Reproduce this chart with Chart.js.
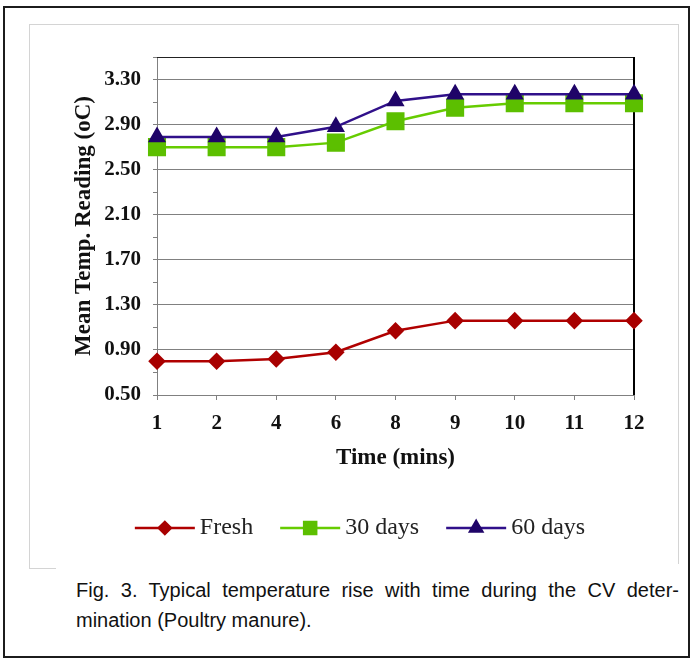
<!DOCTYPE html>
<html lang="en">
<head>
  <meta charset="UTF-8" />
  <title>Temperature rise - Poultry manure</title>
  <script src="https://cdn.jsdelivr.net/npm/chart.js"></script>
  <style>
    body { margin: 0; background: #fff; }
    .frame {
      position: absolute; left: 3px; top: 6px;
      width: 683px; height: 648px;
      border: 2px solid #1c1c1c;
    }
    .chart-box {
      position: absolute; left: 29px; top: 24px;
      width: 650px; height: 545px;
      box-sizing: border-box;
      border: 1px solid #d4d4d4;
    }
    .chart-wrap {
      position: absolute; left: 0; top: 0;
      width: 694px; height: 575px;
    }
    .caption {
      position: absolute; left: 56px; top: 564px;
      width: 628px; height: 86px;
      background: #fff;
      font-family: "Liberation Sans", Arial, sans-serif;
      font-size: 20px; line-height: 30px; color: #111;
    }
    .caption div { margin-left: 20px; width: 603px; }
    .caption .l1 { margin-top: 11px; text-align: justify; text-align-last: justify; }
  </style>
</head>
<body>
  <div class="frame"></div>
  <div class="chart-box"></div>
  <div class="chart-wrap"><canvas id="tempChart"></canvas></div>
  <div class="caption">
    <div class="l1">Fig. 3. Typical temperature rise with time during the CV deter-</div>
    <div>mination (Poultry manure).</div>
  </div>

  <script>
    // data
    const timeLabels = ['1', '2', '4', '6', '8', '9', '10', '11', '12'];
    const fresh  = [0.80, 0.80, 0.82, 0.88, 1.07, 1.16, 1.16, 1.16, 1.16];
    const days30 = [2.70, 2.70, 2.70, 2.74, 2.93, 3.05, 3.09, 3.09, 3.09];
    const days60 = [2.79, 2.79, 2.79, 2.88, 3.11, 3.17, 3.17, 3.17, 3.17];
    const seriesNames = ['Fresh', '30 days', '60 days'];
    const yLabelled = [0.50, 0.90, 1.30, 1.70, 2.10, 2.50, 2.90, 3.30];

    const serif = '"Liberation Serif", "Times New Roman", serif';
    const isLabelled = v => yLabelled.some(t => Math.abs(t - v) < 0.001);

    // top and right edge of the plot box
    const plotFrame = {
      id: 'plotFrame',
      beforeDatasetsDraw(chart) {
        const { ctx, chartArea: a } = chart;
        ctx.save();
        ctx.strokeStyle = '#222';
        ctx.lineWidth = 1;
        ctx.beginPath();
        ctx.moveTo(a.left, Math.round(a.top) + 0.5);
        ctx.lineTo(a.right, Math.round(a.top) + 0.5);
        ctx.stroke();
        ctx.strokeStyle = '#000';
        ctx.lineWidth = 2;
        ctx.beginPath();
        ctx.moveTo(Math.round(a.right), a.top);
        ctx.lineTo(Math.round(a.right), a.bottom);
        ctx.stroke();
        ctx.restore();
      }
    };

    // legend with line + marker, like the office chart
    const lineLegend = {
      id: 'lineLegend',
      afterDraw(chart) {
        const ctx = chart.ctx;
        const y = 528, lineLen = 60, gapText = 5, gapItem = 27;
        ctx.save();
        ctx.font = '24px ' + serif;
        const items = chart.data.datasets.map(ds => ({
          ds, w: lineLen + gapText + ctx.measureText(ds.label).width
        }));
        const total = items.reduce((s, it) => s + it.w, 0) + gapItem * (items.length - 1);
        let x = 360 - total / 2;
        items.forEach(it => {
          const ds = it.ds;
          ctx.strokeStyle = ds.borderColor;
          ctx.lineWidth = ds.borderWidth;
          ctx.beginPath();
          ctx.moveTo(x, y);
          ctx.lineTo(x + lineLen, y);
          ctx.stroke();
          ctx.fillStyle = ds.pointBackgroundColor;
          ctx.strokeStyle = ds.pointBorderColor;
          Chart.helpers.drawPoint(ctx, {
            pointStyle: ds.pointStyle, radius: ds.legendRadius, rotation: 0, borderWidth: 1
          }, x + lineLen / 2, y);
          ctx.fillStyle = '#222';
          ctx.textBaseline = 'middle';
          ctx.textAlign = 'left';
          ctx.fillText(ds.label, x + lineLen + gapText, y);
          x += it.w + gapItem;
        });
        ctx.restore();
      }
    };

    new Chart(document.getElementById('tempChart'), {
      type: 'line',
      data: {
        labels: timeLabels,
        datasets: [
          {
            label: seriesNames[0], data: fresh, order: 2,
            borderColor: '#b00000', borderWidth: 2.5,
            pointStyle: 'rectRot', pointRadius: 7, legendRadius: 6,
            pointBackgroundColor: '#a80000', pointBorderColor: '#a80000',
            tension: 0, clip: false
          },
          {
            label: seriesNames[1], data: days30, order: 1,
            borderColor: '#66cc00', borderWidth: 2.5,
            pointStyle: 'rect', pointRadius: 11, legendRadius: 8.5,
            pointBackgroundColor: '#5cbf00', pointBorderColor: '#5cbf00',
            tension: 0, clip: false
          },
          {
            label: seriesNames[2], data: days60, order: 0,
            borderColor: '#30108a', borderWidth: 2.5,
            pointStyle: 'triangle', pointRadius: 8, legendRadius: 7,
            pointBackgroundColor: '#1f0468', pointBorderColor: '#1f0468',
            tension: 0, clip: false
          }
        ]
      },
      options: {
        responsive: true,
        maintainAspectRatio: false,
        animation: false,
        layout: { padding: { left: 62, right: 60, top: 57, bottom: 103 } },
        plugins: {
          legend: { display: false },
          tooltip: { enabled: false }
        },
        scales: {
          x: {
            offset: false,
            afterFit: s => { s.height = 77; },
            grid: { drawOnChartArea: false, drawTicks: true, tickLength: 5, tickColor: '#808080' },
            border: { color: '#808080', width: 1 },
            ticks: {
              color: '#111', padding: 11, maxRotation: 0,
              font: { family: serif, size: 21, weight: 'bold' }
            },
            title: {
              display: true, text: 'Time (mins)', color: '#111',
              padding: { top: 0, bottom: 0 },
              font: { family: serif, size: 23, weight: 'bold' }
            }
          },
          y: {
            min: 0.5, max: 3.5,
            afterFit: s => { s.width = 95; },
            grid: {
              tickLength: 4, tickColor: '#808080',
              color: c => (c.tick && isLabelled(c.tick.value)) ? '#808080' : 'rgba(0,0,0,0)'
            },
            border: { color: '#808080', width: 1 },
            ticks: {
              stepSize: 0.2, autoSkip: false, padding: 12, color: '#111',
              font: { family: serif, size: 21, weight: 'bold' },
              callback: v => isLabelled(v) ? v.toFixed(2) : ''
            },
            title: {
              display: true, text: 'Mean Temp. Reading (oC)', color: '#111',
              padding: { top: 8, bottom: 0 },
              font: { family: serif, size: 23, weight: 'bold' }
            }
          }
        }
      },
      plugins: [plotFrame, lineLegend]
    });
  </script>
</body>
</html>
